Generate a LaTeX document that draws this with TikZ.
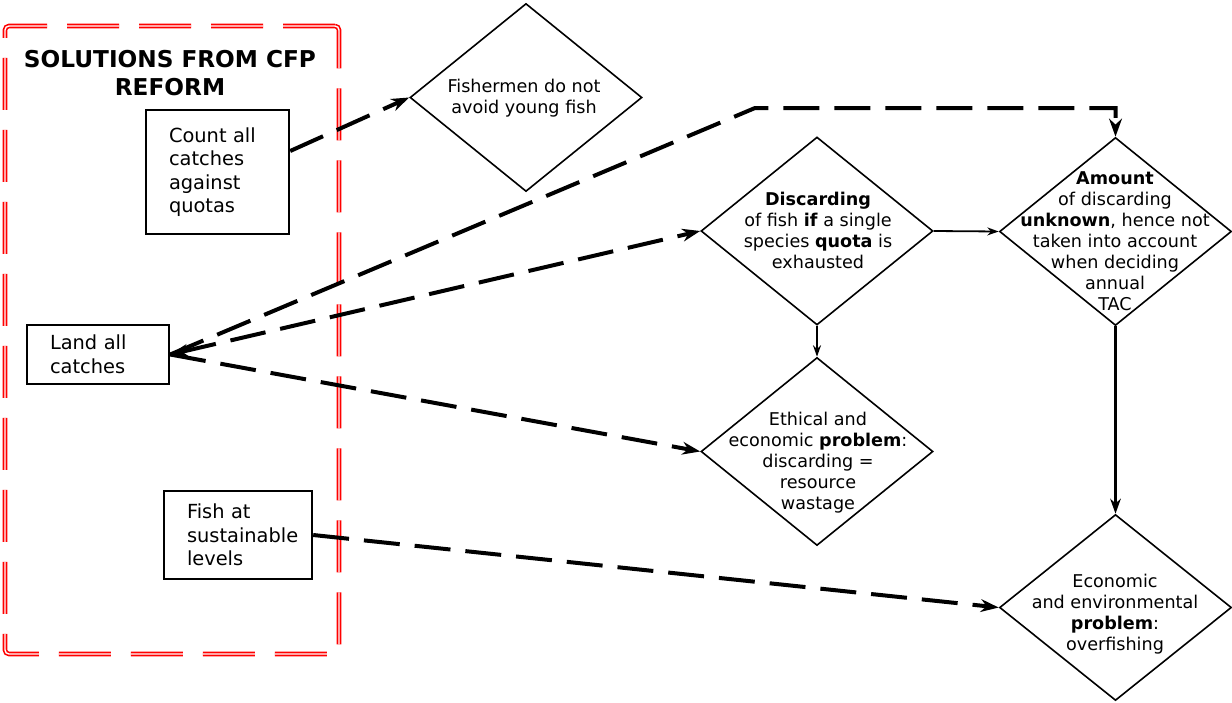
\documentclass[tikz,border=0pt]{standalone}
\usepackage{fontspec}
\setmainfont{DejaVu Sans}
\usetikzlibrary{arrows.meta,shapes.geometric}
\tikzset{>={Stealth[length=3pt 3,width=2pt 2.2]},
  box/.style={draw,line width=1.2pt,align=left,inner xsep=11.5pt,inner ysep=0pt,font=\fontsize{9.7}{11.75}\selectfont},
  dia/.style={diamond,draw,line width=0.8pt,inner sep=0pt,minimum width=116pt,minimum height=94pt},
  txt/.style={align=center,inner sep=0pt,font=\fontsize{8.8}{10.5}\selectfont},
  frame/.style={draw=red,double=white,line width=0.8pt,double distance=0.7pt,dash pattern=on 26pt off 10pt,rounded corners=2pt},
  link/.style={line width=2pt,dash pattern=on 18pt off 7.5pt},
  flow/.style={line width=0.9pt}}

\begin{document}
\begin{tikzpicture}[x=0.5pt,y=-0.5pt]
\useasboundingbox (0,0) rectangle (1232,702);
\node[frame,minimum width=167pt,minimum height=314pt] (cfp) at (172,340) {};
\node[align=center,font=\bfseries\fontsize{11.6}{14}\selectfont] (title) at (170,73) {SOLUTIONS FROM CFP\\REFORM};
\node[box,text width=48.5pt,minimum height=62pt] (count) at (217.5,172) {Count all\\catches\\against\\quotas};
\node[box,text width=48pt,minimum height=29.5pt] (land) at (98,354.5) {Land all\\catches};
\node[box,text width=51pt,minimum height=44pt] (fish) at (238,535) {Fish at\\sustainable\\levels};
% diamonds
\node[dia] (fisher) at (526,97.5) {};
\node[dia] (discard) at (817,231) {};
\node[dia] (amount) at (1115.5,231.5) {};
\node[dia] (ethic) at (817,451.5) {};
\node[dia,minimum height=93pt] (econ) at (1115.5,607.5) {};
\node[txt] (fisherT) at (524,98.5) {Fishermen do not\\avoid young fish};
\node[txt] (discardT) at (818,230.5) {\textbf{Discarding}\\of fish \textbf{if} a single\\species \textbf{quota} is\\exhausted};
\node[txt] (amountT) at (1115,241) {\textbf{Amount}\\of discarding\\\textbf{unknown}, hence not\\taken into account\\when deciding\\annual\\TAC};
\node[txt] (ethicT) at (818,463) {Ethical and\\economic \textbf{problem}:\\discarding =\\resource\\wastage};
\node[txt] (econT) at (1115,614) {Economic\\and environmental\\\textbf{problem}:\\overfishing};
% connectors
\coordinate (bend) at (755,108);
\path[->] ([yshift=10.5pt]count.east) edge[link] (fisher.west);
\draw[link,->] (land.east) -- (bend) -| (amount.north);
\path[<->] (land.east) edge[link] (discard.west);
\path[->] (land.east) edge[link] (ethic.west);
\path[->] (fish.east) edge[link] (econ.west);
\path[->] (discard.east) edge[flow] (amount.west);
\path[->] (discard.south) edge[flow] (ethic.north);
\path[->] (amount.south) edge[flow,line width=1.5pt] (econ.north);
\end{tikzpicture}
\end{document}
